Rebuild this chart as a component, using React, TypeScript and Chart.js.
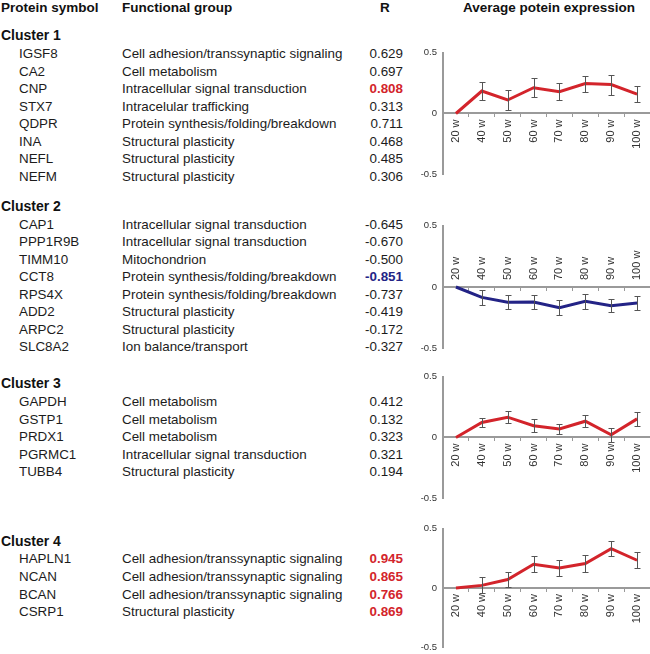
import React, { useEffect, useRef } from "react";
import { Chart, registerables } from "chart.js";

Chart.register(...registerables);
Chart.defaults.font.family = '"Liberation Sans", Arial, Helvetica, sans-serif';

// ---------- DATA ----------
const weeks = ["20 w", "40 w", "50 w", "60 w", "70 w", "80 w", "90 w", "100 w"];

const cluster1Symbols = ["IGSF8", "CA2", "CNP", "STX7", "QDPR", "INA", "NEFL", "NEFM"];
const cluster1Groups = [
  "Cell adhesion/transsynaptic signaling",
  "Cell metabolism",
  "Intracellular signal transduction",
  "Intracelular trafficking",
  "Protein synthesis/folding/breakdown",
  "Structural plasticity",
  "Structural plasticity",
  "Structural plasticity",
];
const cluster1R = [0.629, 0.697, 0.808, 0.313, 0.711, 0.468, 0.485, 0.306];
const cluster1Mean = [0, 0.185, 0.111, 0.212, 0.18, 0.246, 0.238, 0.159];
const cluster1Err = [0, 0.074, 0.079, 0.077, 0.071, 0.066, 0.082, 0.065];

const cluster2Symbols = ["CAP1", "PPP1R9B", "TIMM10", "CCT8", "RPS4X", "ADD2", "ARPC2", "SLC8A2"];
const cluster2Groups = [
  "Intracellular signal transduction",
  "Intracellular signal transduction",
  "Mitochondrion",
  "Protein synthesis/folding/breakdown",
  "Protein synthesis/folding/breakdown",
  "Structural plasticity",
  "Structural plasticity",
  "Ion balance/transport",
];
const cluster2R = [-0.645, -0.67, -0.5, -0.851, -0.737, -0.419, -0.172, -0.327];
const cluster2Mean = [0, -0.085, -0.125, -0.122, -0.168, -0.117, -0.152, -0.13];
const cluster2Err = [0, 0.064, 0.058, 0.056, 0.06, 0.059, 0.055, 0.06];

const cluster3Symbols = ["GAPDH", "GSTP1", "PRDX1", "PGRMC1", "TUBB4"];
const cluster3Groups = [
  "Cell metabolism",
  "Cell metabolism",
  "Cell metabolism",
  "Intracellular signal transduction",
  "Structural plasticity",
];
const cluster3R = [0.412, 0.132, 0.323, 0.321, 0.194];
const cluster3Mean = [0, 0.124, 0.167, 0.097, 0.07, 0.134, 0.022, 0.153];
const cluster3Err = [0, 0.04, 0.05, 0.052, 0.045, 0.05, 0.058, 0.055];

const cluster4Symbols = ["HAPLN1", "NCAN", "BCAN", "CSRP1"];
const cluster4Groups = [
  "Cell adhesion/transsynaptic signaling",
  "Cell adhesion/transsynaptic signaling",
  "Cell adhesion/transsynaptic signaling",
  "Structural plasticity",
];
const cluster4R = [0.945, 0.865, 0.766, 0.869];
const cluster4Mean = [0, 0.022, 0.071, 0.2, 0.168, 0.206, 0.332, 0.234];
const cluster4Err = [0, 0.068, 0.06, 0.067, 0.066, 0.071, 0.065, 0.067];

const clusterTitles = ["Cluster 1", "Cluster 2", "Cluster 3", "Cluster 4"];
const headers = ["Protein symbol", "Functional group", "R", "Average potein expression"];

// ---------- LAYOUT / STYLE ----------
const RED = "#d3242b";
const BLUE = "#232386";
const FONT = '"Liberation Sans", Arial, Helvetica, sans-serif';

const clusters = [
  { title: clusterTitles[0], symbols: cluster1Symbols, groups: cluster1Groups, r: cluster1R, mean: cluster1Mean, err: cluster1Err,
    headY: 35, rowY: 54.3, step: 17.53, yTop: 51, yBottom: 176, color: RED, above: false },
  { title: clusterTitles[1], symbols: cluster2Symbols, groups: cluster2Groups, r: cluster2R, mean: cluster2Mean, err: cluster2Err,
    headY: 205.7, rowY: 225, step: 17.47, yTop: 224, yBottom: 350, color: BLUE, above: true },
  { title: clusterTitles[2], symbols: cluster3Symbols, groups: cluster3Groups, r: cluster3R, mean: cluster3Mean, err: cluster3Err,
    headY: 383.3, rowY: 402, step: 17.6, yTop: 375, yBottom: 500, color: RED, above: false },
  { title: clusterTitles[3], symbols: cluster4Symbols, groups: cluster4Groups, r: cluster4R, mean: cluster4Mean, err: cluster4Err,
    headY: 540.7, rowY: 559.3, step: 17.6, yTop: 526.5, yBottom: 649, color: RED, above: false },
];

function MiniChart(props: { mean: number[]; err: number[]; color: string; above: boolean; yTop: number; yBottom: number }) {
  const { mean, err, color, above, yTop, yBottom } = props;
  const ref = useRef<HTMLCanvasElement>(null);
  const pad = 10;
  const canvasTop = Math.round(yTop) - pad;
  const height = Math.round(yBottom) - Math.round(yTop) + 2 * pad;

  useEffect(() => {
    const errorBars = {
      id: "errorBars",
      afterDatasetsDraw(chart: any) {
        const xs = chart.scales.x;
        const ys = chart.scales.y;
        const ctx = chart.ctx;
        ctx.save();
        ctx.strokeStyle = "#555";
        ctx.lineWidth = 1;
        mean.forEach((m, i) => {
          const e = err[i];
          if (!e) return;
          const x = Math.round(xs.getPixelForValue(i)) + 0.5;
          const y1 = Math.round(ys.getPixelForValue(m + e)) + 0.5;
          const y2 = Math.round(ys.getPixelForValue(m - e)) + 0.5;
          ctx.beginPath();
          ctx.moveTo(x, y1);
          ctx.lineTo(x, y2);
          ctx.moveTo(x - 3, y1);
          ctx.lineTo(x + 3, y1);
          ctx.moveTo(x - 3, y2);
          ctx.lineTo(x + 3, y2);
          ctx.stroke();
        });
        ctx.restore();
      },
    };
    const weekLabels = {
      id: "weekLabels",
      afterDraw(chart: any) {
        const xs = chart.scales.x;
        const ys = chart.scales.y;
        const ctx = chart.ctx;
        const y0 = ys.getPixelForValue(0);
        ctx.save();
        ctx.fillStyle = "#333";
        ctx.font = "11px " + FONT;
        ctx.textBaseline = "middle";
        weeks.forEach((w, i) => {
          const x = xs.getPixelForValue(i);
          ctx.save();
          ctx.translate(x, above ? y0 - 7 : y0 + 6);
          ctx.rotate(-Math.PI / 2);
          ctx.textAlign = above ? "left" : "right";
          ctx.fillText(w, 0, 0);
          ctx.restore();
        });
        ctx.restore();
      },
    };
    const chart = new Chart(ref.current as HTMLCanvasElement, {
      type: "line",
      data: {
        labels: weeks,
        datasets: [
          { data: mean, borderColor: color, backgroundColor: color, borderWidth: 3, pointRadius: 0, tension: 0, fill: false },
        ],
      },
      options: {
        animation: false,
        responsive: false,
        events: [],
        layout: { padding: { top: pad, bottom: pad, left: 0, right: 0 } },
        plugins: { legend: { display: false }, tooltip: { enabled: false } },
        scales: {
          x: {
            type: "category",
            position: { y: 0 } as any,
            offset: true,
            grid: { display: true, drawOnChartArea: false, drawTicks: true, tickLength: 3, offset: true, color: "#9a9a9a", lineWidth: 1 },
            border: { display: true, color: "#9a9a9a", width: 2 },
            ticks: { display: false },
          },
          y: {
            min: -0.5,
            max: 0.5,
            afterFit: (s: any) => {
              s.width = 43;
            },
            ticks: {
              stepSize: 0.5,
              padding: 6,
              color: "#333",
              font: { size: 9.5 },
              callback: (v: any) => (v === 0 ? "0" : String(v)),
            },
            grid: { display: false, drawTicks: false },
            border: { display: true, color: "#9a9a9a", width: 2 },
          },
        },
      } as any,
      plugins: [errorBars, weekLabels],
    });
    return () => chart.destroy();
  }, []);

  return (
    <canvas
      ref={ref}
      width={250}
      height={height}
      style={{ position: "absolute", left: 400, top: canvasTop, display: "block" }}
    />
  );
}

function Txt(props: { x?: number; right?: number; y: number; text: string; bold?: boolean; size: number; color?: string }) {
  const lh = 18;
  const style: any = {
    position: "absolute",
    top: props.y - lh / 2,
    lineHeight: lh + "px",
    fontSize: props.size,
    fontWeight: props.bold ? "bold" : "normal",
    color: props.color || "#1c1c1c",
    whiteSpace: "nowrap",
    fontFamily: FONT,
  };
  if (props.right !== undefined) {
    style.right = 650 - props.right;
    style.textAlign = "right";
  } else {
    style.left = props.x;
  }
  return <div style={style}>{props.text}</div>;
}

export default function App() {
  const items: any[] = [];
  items.push(<Txt key="h0" x={1} y={8} text={headers[0]} bold size={13.5} color="#111" />);
  items.push(<Txt key="h1" x={122} y={8} text={headers[1]} bold size={13.5} color="#111" />);
  items.push(<Txt key="h2" x={380} y={8} text={headers[2]} bold size={13.5} color="#111" />);
  items.push(<Txt key="h3" x={463} y={8} text={headers[3]} bold size={13.5} color="#111" />);

  clusters.forEach((c, ci) => {
    items.push(<Txt key={"c" + ci} x={1} y={c.headY} text={c.title} bold size={14} color="#111" />);
    c.symbols.forEach((s, i) => {
      const y = c.rowY + i * c.step;
      const r = c.r[i];
      const strong = Math.abs(r) >= 0.75;
      const rColor = strong ? (r > 0 ? RED : BLUE) : "#1c1c1c";
      items.push(<Txt key={`s${ci}-${i}`} x={19} y={y} text={s} size={13.4} />);
      items.push(<Txt key={`g${ci}-${i}`} x={122} y={y} text={c.groups[i]} size={13.4} />);
      items.push(<Txt key={`r${ci}-${i}`} right={403} y={y} text={r.toFixed(3)} size={13.4} bold={strong} color={rColor} />);
    });
  });

  return (
    <div
      style={{
        position: "absolute",
        left: 0,
        top: 0,
        width: 650,
        height: 654,
        overflow: "hidden",
        background: "#fff",
      }}
    >
      {items}
      {clusters.map((c, ci) => (
        <MiniChart key={"m" + ci} mean={c.mean} err={c.err} color={c.color} above={c.above} yTop={c.yTop} yBottom={c.yBottom} />
      ))}
    </div>
  );
}
